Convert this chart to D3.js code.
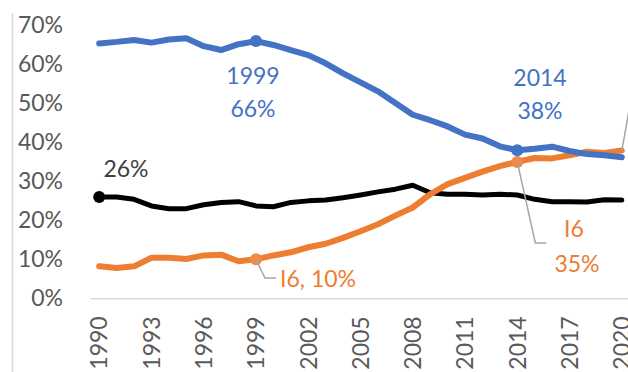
<!DOCTYPE html>
<html>
<head>
<meta charset="utf-8">
<script src="https://cdn.jsdelivr.net/npm/d3@7"></script>
<style>
  html, body { margin: 0; padding: 0; background: #fff; }
  svg { display: block; font-family: Lato, "Open Sans", sans-serif; }
</style>
</head>
<body>
<svg id="chart" width="628" height="372"></svg>
<script>
// Share of output by group, 1990–2020
const years = d3.range(1990, 2021);
const tickYears = [1990, 1993, 1996, 1999, 2002, 2005, 2008, 2011, 2014, 2017, 2020];
const yTicks = [0, 0.1, 0.2, 0.3, 0.4, 0.5, 0.6, 0.7];

const blueSeries = [
  0.654, 0.658, 0.663, 0.656, 0.664, 0.667, 0.647, 0.637, 0.652, 0.66,
  0.650, 0.637, 0.624, 0.603, 0.577, 0.554, 0.531, 0.501, 0.471, 0.457,
  0.441, 0.420, 0.410, 0.390, 0.38, 0.384, 0.389, 0.378, 0.370, 0.367, 0.362
];
const blackSeries = [
  0.26, 0.260, 0.254, 0.237, 0.230, 0.230, 0.240, 0.246, 0.248, 0.237,
  0.235, 0.246, 0.250, 0.252, 0.258, 0.265, 0.273, 0.280, 0.290, 0.271,
  0.267, 0.267, 0.265, 0.267, 0.265, 0.254, 0.248, 0.248, 0.247, 0.253, 0.252
];
const orangeSeries = [
  0.082, 0.078, 0.082, 0.104, 0.104, 0.101, 0.110, 0.112, 0.095, 0.10,
  0.110, 0.118, 0.131, 0.140, 0.155, 0.172, 0.190, 0.212, 0.233, 0.267,
  0.293, 0.309, 0.325, 0.339, 0.35, 0.360, 0.359, 0.367, 0.376, 0.373, 0.379
];

const svg = d3.select("#chart");

const x = d3.scaleBand().domain(years).range([90.5, 90.5 + 31 * 17.42]).padding(0);
const cx = yr => x(yr) + x.bandwidth() / 2;
const y = d3.scaleLinear().domain([0, 0.7]).range([298.3, 25.5]);

// chart frame (left edge only falls inside the view)
svg.append("line")
  .attr("x1", 12.5).attr("x2", 12.5).attr("y1", 13).attr("y2", 372)
  .attr("stroke", "#d9d9d9").attr("stroke-width", 1.5);

// y axis labels
const yAxis = svg.append("g")
  .attr("transform", "translate(63,0)")
  .call(d3.axisLeft(y).tickValues(yTicks).tickFormat(d3.format(".0%")).tickSize(0).tickPadding(0));
yAxis.select(".domain").remove();
yAxis.selectAll("text")
  .attr("fill", "#595959").style("font-size", "23px").style("font-family", "Lato, sans-serif");

// category axis with baseline
const xAxis = svg.append("g")
  .attr("transform", "translate(0," + y(0) + ")")
  .call(d3.axisBottom(x).tickValues(tickYears).tickSize(0).tickPadding(0));
xAxis.select(".domain").attr("stroke", "#d9d9d9").attr("stroke-width", 1.5);
xAxis.selectAll("text")
  .attr("fill", "#595959").style("font-size", "23px").style("font-family", "Lato, sans-serif")
  .attr("transform", "rotate(-90)")
  .attr("text-anchor", "end")
  .attr("x", -18).attr("y", 0).attr("dy", "0.36em");

const line = d3.line().x((d, i) => cx(years[i])).y(d => y(d));

const series = [
  { values: blackSeries, color: "#000000", width: 5 },
  { values: orangeSeries, color: "#ED7D31", width: 6 },
  { values: blueSeries, color: "#4472C4", width: 6 }
];
svg.selectAll("path.series").data(series).join("path")
  .attr("class", "series")
  .attr("d", s => line(s.values))
  .attr("fill", "none")
  .attr("stroke", s => s.color)
  .attr("stroke-width", s => s.width)
  .attr("stroke-linejoin", "round")
  .attr("stroke-linecap", "round");

// highlighted points
const markers = [
  { yr: 1990, v: blackSeries[0], color: "#000000" },
  { yr: 1999, v: orangeSeries[9], color: "#F08A48" },
  { yr: 2014, v: orangeSeries[24], color: "#F08A48" },
  { yr: 1999, v: blueSeries[9], color: "#4472C4" },
  { yr: 2014, v: blueSeries[24], color: "#4472C4" }
];
svg.selectAll("circle.mk").data(markers).join("circle")
  .attr("class", "mk")
  .attr("cx", d => cx(d.yr)).attr("cy", d => y(d.v)).attr("r", 6)
  .attr("fill", d => d.color);

// leader lines
const leader = (pts) => svg.append("polyline")
  .attr("points", pts.map(p => p.join(",")).join(" "))
  .attr("fill", "none").attr("stroke", "#a6a6a6").attr("stroke-width", 1.5);
leader([[cx(1999), y(orangeSeries[9])], [cx(1999) + 9, 278], [cx(1999) + 20, 278]]);
leader([[cx(2014), y(orangeSeries[24])], [cx(2014) + 18, 243], [cx(2014) + 29, 243]]);
leader([[cx(2020), y(orangeSeries[30])], [cx(2020) + 10, 95]]);

// data labels
const pct = d3.format(".0%");
const label = (txt, xPos, yPos, color, anchor) => svg.append("text")
  .attr("x", xPos).attr("y", yPos)
  .attr("fill", color).attr("text-anchor", anchor || "middle")
  .style("font-size", "23px")
  .text(txt);

label("1999", 253, 84, "#4472C4");
label(pct(blueSeries[9]), 253, 117, "#4472C4");
label("2014", 540, 86, "#4472C4");
label(pct(blueSeries[24]), 540, 119, "#4472C4");
label(pct(blackSeries[0]), 126, 177, "#404040");
label("I6, " + pct(orangeSeries[9]), 280, 287, "#ED7D31", "start");
label("I6", 574, 237, "#ED7D31");
label(pct(orangeSeries[24]), 577, 272, "#ED7D31");
</script>
</body>
</html>
